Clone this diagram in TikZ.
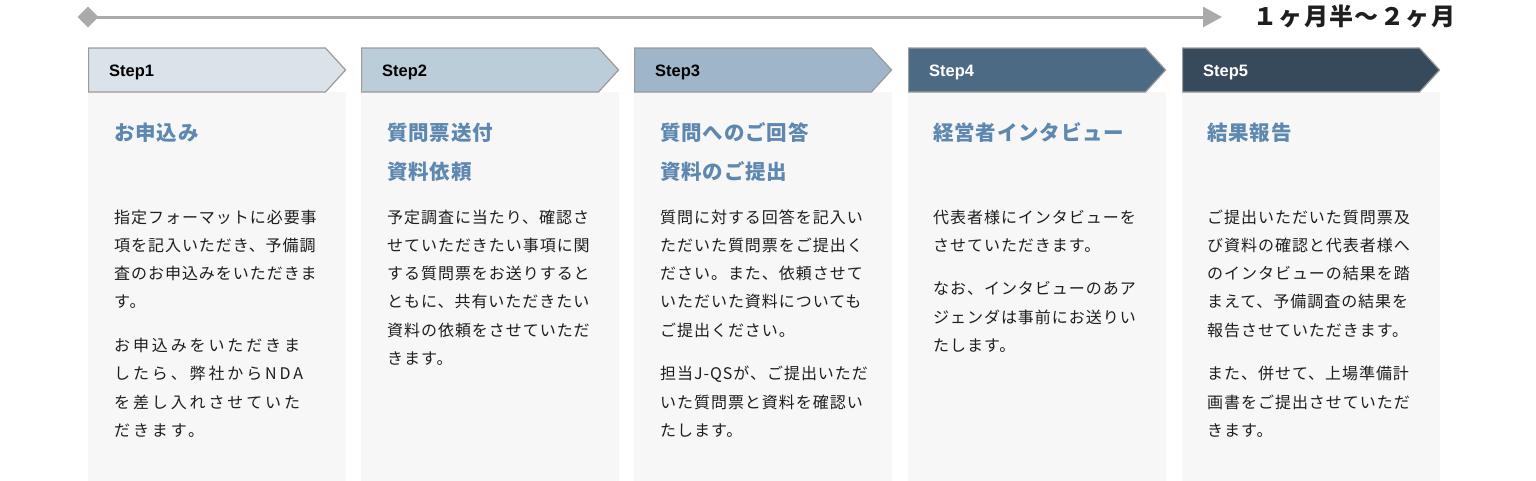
\documentclass[tikz,border=0pt]{standalone}
\usepackage{fontspec}
\usepackage{xcolor}
\usetikzlibrary{
    positioning,
    shapes.geometric,
    shapes.symbols,
    arrows.meta
}
\setmainfont{Noto Sans CJK JP}
\newfontfamily\jpfont[LetterSpace=6]{Noto Sans CJK JP}
\newfontfamily\jphead[LetterSpace=4]{Noto Sans CJK JP}
\newfontfamily\jpwide[LetterSpace=18]{Noto Sans CJK JP}
\newfontfamily\stepfont{Liberation Sans}

\definecolor{lineGray}{HTML}{AAAAAA}
\definecolor{edgeGray}{HTML}{9A9A9A}
\definecolor{panelGray}{HTML}{F7F7F8}
\definecolor{titleBlue}{HTML}{5E88B0}
\definecolor{bodyText}{HTML}{1E1E1E}
\definecolor{stepA}{HTML}{DAE2EA}
\definecolor{stepB}{HTML}{BCCDDA}
\definecolor{stepC}{HTML}{9FB5CA}
\definecolor{stepD}{HTML}{4D6A85}
\definecolor{stepE}{HTML}{374A5C}

\tikzset{
    panel/.style={fill=panelGray, minimum width=258pt, minimum height=390pt,
        anchor=north west, inner sep=0pt},
    stepbox/.style={signal, signal to=east, signal pointer angle=95,
        draw=edgeGray, line width=1.2pt, minimum width=257pt,
        minimum height=44pt, anchor=west, inner sep=0pt},
    steplabel/.style={anchor=base west, inner sep=0pt,
        font=\stepfont\bfseries\fontsize{16.5}{20}\selectfont},
    title/.style={anchor=base west, inner sep=0pt, align=left, text=titleBlue,
        font=\jphead\bfseries\fontsize{20.5}{38.5}\selectfont},
    body/.style={anchor=base west, inner sep=0pt, align=left, text=bodyText,
        font=\jpfont\fontsize{16}{28.3}\selectfont}
}

\begin{document}
\begin{tikzpicture}[x=1pt, y=-1pt]
    \useasboundingbox (0, 0) rectangle (1536, 480);

    % timeline
    \node[diamond, fill=lineGray, minimum width=21pt, minimum height=21pt,
        inner sep=0pt] (start) at (88, 17) {};
    \coordinate (tlend) at (1222, 17);
    \draw[lineGray, line width=3pt, -{Triangle[length=19pt, width=20pt]}]
        (start.center) -- (tlend);
    \node[anchor=west, inner sep=0pt, text=bodyText,
        font=\jpfont\bfseries\fontsize{24}{27}\selectfont]
        (span) at (1253, 17) {１ヶ月半～２ヶ月};

    % panels
    \node[panel] (p1) at (88, 92) {};
    \node[panel] (p2) at (361, 92) {};
    \node[panel] (p3) at (634, 92) {};
    \node[panel] (p4) at (908, 92) {};
    \node[panel] (p5) at (1182, 92) {};

    % step arrows
    \node[stepbox, fill=stepA] (s1) at (88, 70) {};
    \node[stepbox, fill=stepB] (s2) at (361, 70) {};
    \node[stepbox, fill=stepC] (s3) at (634, 70) {};
    \node[stepbox, fill=stepD] (s4) at (908, 70) {};
    \node[stepbox, fill=stepE] (s5) at (1182, 70) {};
    \node[steplabel, text=black] (l1) at ([xshift=21pt, yshift=-6pt]s1.west) {Step1};
    \node[steplabel, text=black] (l2) at ([xshift=21pt, yshift=-6pt]s2.west) {Step2};
    \node[steplabel, text=black] (l3) at ([xshift=21pt, yshift=-6pt]s3.west) {Step3};
    \node[steplabel, text=white] (l4) at ([xshift=21pt, yshift=-6pt]s4.west) {Step4};
    \node[steplabel, text=white] (l5) at ([xshift=21pt, yshift=-6pt]s5.west) {Step5};

    % titles (base = last line)
    \node[title] (h1) at (114, 140.5) {お申込み};
    \node[title] (h2) at (387, 179) {質問票送付\\資料依頼};
    \node[title] (h3) at (660, 179) {質問へのご回答\\資料のご提出};
    \node[title] (h4) at (933, 140.5) {経営者インタビュー};
    \node[title] (h5) at (1207, 140.5) {結果報告};

    % texts (base = last line)
    \node[body] (b1) at (114, 436.3) {指定フォーマットに必要事\\項を記入いただき、予備調\\査のお申込みをいただきま\\す。\\[15.2pt]
        {\jpwide お申込みをいただきま}\\{\jpwide したら、弊社からNDA}\\{\jpwide を差し入れさせていた}\\{\jpwide だきます。}};
    \node[body] (b2) at (387, 364.5) {予定調査に当たり、確認さ\\せていただきたい事項に関\\する質問票をお送りすると\\ともに、共有いただきたい\\資料の依頼をさせていただ\\きます。};
    \node[body] (b3) at (660, 436.3) {質問に対する回答を記入い\\ただいた質問票をご提出く\\ださい。また、依頼させて\\いただいた資料についても\\ご提出ください。\\[15.2pt]
        担当J-QSが、ご提出いただ\\いた質問票と資料を確認い\\たします。};
    \node[body] (b4) at (933, 351.4) {代表者様にインタビューを\\させていただきます。\\[15.2pt]
        なお、インタビューのあア\\ジェンダは事前にお送りい\\たします。};
    \node[body] (b5) at (1207, 436.3) {ご提出いただいた質問票及\\び資料の確認と代表者様へ\\のインタビューの結果を踏\\まえて、予備調査の結果を\\報告させていただきます。\\[15.2pt]
        また、併せて、上場準備計\\画書をご提出させていただ\\きます。};
\end{tikzpicture}
\end{document}
